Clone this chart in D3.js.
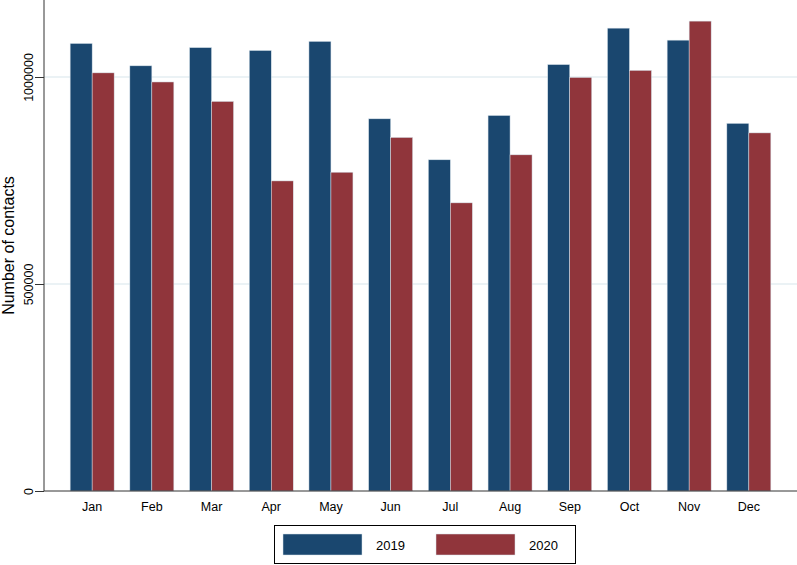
<!DOCTYPE html>
<html>
<head>
<meta charset="utf-8">
<script src="https://cdn.jsdelivr.net/npm/d3@7"></script>
<style>
  body { margin: 0; background: #fff; }
  text { font-family: Arial, "Liberation Sans", sans-serif; fill: #000; }
</style>
</head>
<body>
<svg id="chart"></svg>
<script>
const width = 797;
const height = 565;

const months = ["Jan", "Feb", "Mar", "Apr", "May", "Jun", "Jul", "Aug", "Sep", "Oct", "Nov", "Dec"];
const years = ["2019", "2020"];
const contacts2019 = [1081000, 1027000, 1071000, 1064000, 1086000, 899000, 800000, 907000, 1030000, 1118000, 1089000, 888000];
const contacts2020 = [1010000, 988000, 941000, 749000, 770000, 854000, 696000, 812000, 999000, 1016000, 1135000, 865000];
const yTicks = [0, 500000, 1000000];
const colors = ["#1a476f", "#90353b"];

const svg = d3.select("#chart")
    .attr("width", width)
    .attr("height", height);

const plotLeft = 44, plotRight = 797, plotTop = 0, plotBottom = 491;

const x = d3.scaleBand()
    .domain(months)
    .range([plotLeft, plotRight])
    .paddingInner(0.263)
    .paddingOuter(0.438);

const xSub = d3.scaleBand()
    .domain(years)
    .range([0, x.bandwidth()]);

const y = d3.scaleLinear()
    .domain([0, 1186000])
    .range([plotBottom, plotTop]);

// gridlines
svg.append("g")
    .selectAll("line")
    .data(yTicks.filter(function(d) { return d > 0; }))
    .enter().append("line")
    .attr("x1", plotLeft)
    .attr("x2", plotRight)
    .attr("y1", function(d) { return y(d); })
    .attr("y2", function(d) { return y(d); })
    .style("stroke", "#e4eef2")
    .style("stroke-width", 1.5);

const rows = months.map(function(m, i) {
    return {month: m, values: [contacts2019[i], contacts2020[i]]};
});

const group = svg.append("g")
    .selectAll("g")
    .data(rows)
    .enter().append("g")
    .attr("transform", function(d) { return "translate(" + x(d.month) + ",0)"; });

group.selectAll("rect")
    .data(function(d) { return d.values.map(function(v, j) { return {year: years[j], value: v, j: j}; }); })
    .enter().append("rect")
    .attr("x", function(d) { return xSub(d.year); })
    .attr("width", xSub.bandwidth())
    .attr("y", function(d) { return y(d.value); })
    .attr("height", function(d) { return plotBottom - y(d.value); })
    .style("fill", function(d) { return colors[d.j]; })
    .style("stroke", "#d6e2ea")
    .style("stroke-width", 0.5);

// y axis
const yAxis = svg.append("g")
    .attr("transform", "translate(" + plotLeft + ",0)")
    .call(d3.axisLeft(y).tickValues(yTicks).tickSize(9).tickFormat(d3.format("d")));
yAxis.select(".domain").style("stroke", "#333").attr("d", "M0," + plotBottom + "V" + plotTop);
yAxis.selectAll(".tick line").style("stroke", "#333");
yAxis.selectAll(".tick text")
    .attr("x", 0)
    .attr("y", 0)
    .attr("dy", 0)
    .attr("transform", "translate(-11,0) rotate(-90)")
    .attr("text-anchor", "middle")
    .style("font-size", "12.5px")
    .style("font-family", "Arial, 'Liberation Sans', sans-serif");

// x axis
const xAxis = svg.append("g")
    .attr("transform", "translate(0," + plotBottom + ")")
    .call(d3.axisBottom(x).tickSize(0).tickPadding(11));
xAxis.select(".domain").style("stroke", "#333").attr("d", "M" + plotLeft + ",0H" + plotRight);
xAxis.selectAll(".tick text")
    .style("font-size", "12.5px")
    .style("font-family", "Arial, 'Liberation Sans', sans-serif");

// y label
svg.append("text")
    .attr("transform", "translate(14," + ((plotTop + plotBottom) / 2) + ") rotate(-90)")
    .attr("text-anchor", "middle")
    .style("font-size", "16px")
    .text("Number of contacts");

// legend
const legend = svg.append("g");
legend.append("rect")
    .attr("x", 274.5).attr("y", 525.5)
    .attr("width", 301).attr("height", 38)
    .style("fill", "#fff")
    .style("stroke", "#000")
    .style("stroke-width", 1);

const legendX = [283, 436];
years.forEach(function(yr, j) {
    legend.append("rect")
        .attr("x", legendX[j]).attr("y", 534)
        .attr("width", 79).attr("height", 21)
        .style("fill", colors[j])
        .style("stroke", "#d6e2ea")
        .style("stroke-width", 0.5);
    legend.append("text")
        .attr("x", legendX[j] + 93)
        .attr("y", 549.5)
        .style("font-size", "13px")
        .text(yr);
});
</script>
</body>
</html>
